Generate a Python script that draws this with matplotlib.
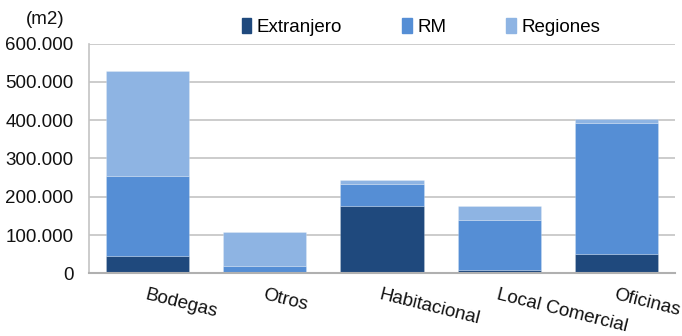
import matplotlib.pyplot as plt
import matplotlib.patches as mpatches
from matplotlib.ticker import FuncFormatter

plt.rcParams['font.family'] = ['Liberation Sans', 'DejaVu Sans']

categories = ['Bodegas', 'Otros', 'Habitacional', 'Local Comercial', 'Oficinas']
series_names = ['Extranjero', 'RM', 'Regiones']
extranjero = [46000, 0, 177000, 9000, 51000]
rm = [209000, 20000, 57000, 129000, 341000]
regiones = [272000, 88000, 9000, 39000, 10000]

colors = ['#1F497D', '#558ED5', '#8EB4E3']
grid_color = '#C4C4C4'
fs = 13.5

fig = plt.figure(figsize=(6.82, 3.36), dpi=100)
ax = fig.add_axes([0.1305, 0.1866, 0.8592, 0.6839])

x = range(len(categories))
bottom = [0] * len(categories)
for vals, col in zip([extranjero, rm, regiones], colors):
    ax.bar(x, vals, width=0.71, bottom=bottom, color=col,
           edgecolor=(1, 1, 1, 0.2), linewidth=0.7, zorder=3)
    bottom = [b + v for b, v in zip(bottom, vals)]

ax.set_xlim(-0.5, len(categories) - 0.5)
ax.set_ylim(0, 600000)
ax.set_yticks(range(0, 600001, 100000))
ax.yaxis.set_major_formatter(FuncFormatter(lambda v, p: f'{v:,.0f}'.replace(',', '.')))
ax.yaxis.grid(True, color=grid_color, linewidth=1.2, zorder=0)

for s in ['top', 'right']:
    ax.spines[s].set_visible(False)
ax.spines['left'].set_color(grid_color)
ax.spines['left'].set_linewidth(1.2)
ax.spines['bottom'].set_color('#B0B0B0')
ax.spines['bottom'].set_linewidth(1.5)
ax.spines['bottom'].set_zorder(4)

ax.tick_params(axis='y', length=0, pad=11, labelsize=fs, labelcolor='#111111')
ax.tick_params(axis='x', length=0, pad=9.5, labelsize=fs, labelcolor='#111111')
ax.set_xticks(list(x))
ax.set_xticklabels(categories, rotation=-14, ha='left', rotation_mode='anchor')

fig.text(45 / 682, 1 - 20 / 336, '(m2)', ha='center', va='center', fontsize=fs, color='#111111')

handles = [mpatches.Patch(color=c, label=n) for c, n in zip(colors, series_names)]
fig.legend(handles=handles, loc='center', bbox_to_anchor=(421 / 682, 1 - 27 / 336),
           ncol=3, frameon=False, fontsize=fs, handlelength=0.5, handleheight=0.8,
           handletextpad=0.3, columnspacing=3.2)

fig.savefig('out.png', dpi=100)
